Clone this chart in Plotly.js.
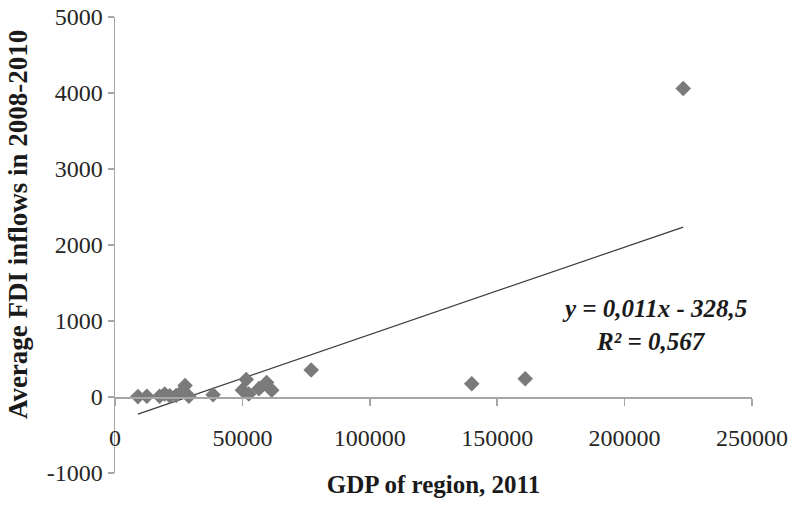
<!DOCTYPE html>
<html>
<head>
<meta charset="utf-8">
<script src="https://cdn.plot.ly/plotly-3.0.1.min.js"></script>
<style>
html,body{margin:0;padding:0;background:#fff;}
#chart{width:792px;height:506px;}
</style>
</head>
<body>
<div id="chart"></div>
<script>
// GDP of region, 2011
const gdp = [9000, 12500, 17500, 19500, 21500, 24000, 26500, 27500, 29000, 38500,
             50000, 51500, 52500, 56500, 59500, 61500, 77000, 140000, 161000, 223000];
// Average FDI inflows in 2008-2010
const fdi = [5, 10, 10, 40, 15, 20, 80, 150, 10, 30,
             90, 230, 40, 110, 190, 90, 355, 175, 240, 4060];
// Linear trendline as drawn
const trendSlope = 0.0115;
const trendIntercept = -328.5;
const xTicks = [0, 50000, 100000, 150000, 200000, 250000];
const yTicks = [-1000, 0, 1000, 2000, 3000, 4000, 5000];
const eqLine1 = "y = 0,011x - 328,5";
const eqLine2 = "R² = 0,567";

const xMin = Math.min(...gdp), xMax = Math.max(...gdp);
const trendX = [xMin, xMax];
const trendY = trendX.map(v => trendSlope * v + trendIntercept);

const serif = "'Liberation Serif', 'Times New Roman', serif";
const axisGray = '#a6a6a6';

const data = [
  {
    x: trendX, y: trendY, type: 'scatter', mode: 'lines', xaxis: 'x', yaxis: 'y',
    line: {color: '#3a3a3a', width: 1.2},
    hoverinfo: 'skip', showlegend: false
  },
  {
    x: gdp, y: fdi, type: 'scatter', mode: 'markers', xaxis: 'x2', yaxis: 'y',
    marker: {symbol: 'diamond', size: 12, color: '#7a7a7a', line: {width: 0}},
    showlegend: false
  }
];

const layout = {
  width: 792, height: 506,
  margin: {l: 115, r: 40, t: 17, b: 33},
  paper_bgcolor: '#ffffff', plot_bgcolor: '#ffffff',
  showlegend: false,
  xaxis: {
    range: [0, 250000], anchor: 'y',
    showline: false, showgrid: false, zeroline: false,
    showticklabels: false, ticks: '',
    title: {text: '<b>GDP of region, 2011</b>', font: {family: serif, size: 25, color: '#1a1a1a'}, standoff: 2}
  },
  xaxis2: {
    range: [0, 250000], overlaying: 'x', anchor: 'free', position: 1/6, side: 'bottom',
    showline: true, linecolor: axisGray, linewidth: 1.5,
    showgrid: false, zeroline: false,
    tickmode: 'array', tickvals: xTicks, ticktext: xTicks.map(String),
    ticks: 'outside', ticklen: 7, tickcolor: axisGray, tickwidth: 1.5,
    ticklabelstandoff: 12,
    tickfont: {family: serif, size: 24, color: '#262626'}
  },
  yaxis: {
    range: [-1000, 5000],
    showline: true, linecolor: axisGray, linewidth: 1.5,
    showgrid: false, zeroline: false,
    tickmode: 'array', tickvals: yTicks, ticktext: yTicks.map(String),
    ticks: 'outside', ticklen: 6, tickcolor: axisGray, tickwidth: 1.5,
    tickfont: {family: serif, size: 24, color: '#262626'}
  },
  annotations: [
    {
      xref: 'paper', yref: 'paper', x: -0.152, y: 0.544,
      text: '<b>Average FDI inflows in 2008-2010</b>', textangle: -90,
      showarrow: false, xanchor: 'center', yanchor: 'middle',
      font: {family: serif, size: 27, color: '#1a1a1a'}
    },
    {
      xref: 'x', yref: 'y', x: 211900, y: 1158,
      text: '<b><i>' + eqLine1 + '</i></b>', showarrow: false,
      xanchor: 'center', yanchor: 'middle',
      font: {family: serif, size: 25, color: '#1a1a1a'}
    },
    {
      xref: 'x', yref: 'y', x: 210500, y: 724,
      text: '<b><i>' + eqLine2 + '</i></b>', showarrow: false,
      xanchor: 'center', yanchor: 'middle',
      font: {family: serif, size: 25, color: '#1a1a1a'}
    }
  ]
};

Plotly.newPlot('chart', data, layout, {displayModeBar: false, staticPlot: true});
</script>
</body>
</html>
